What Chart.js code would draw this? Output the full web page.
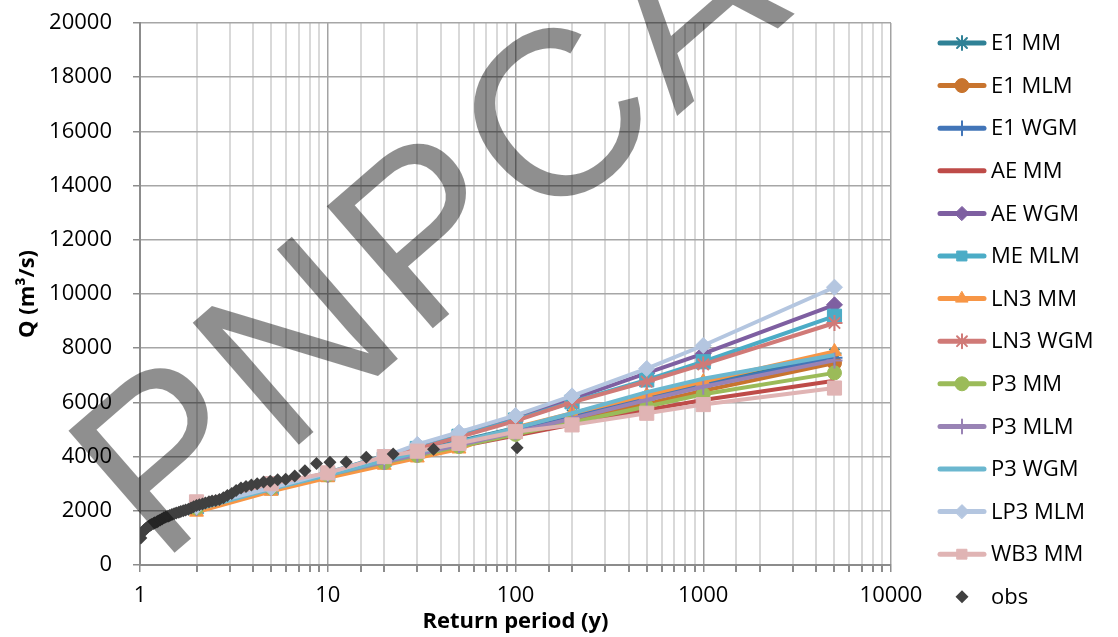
<!DOCTYPE html>
<html>
<head>
<meta charset="utf-8">
<script src="https://cdn.jsdelivr.net/npm/chart.js@4/dist/chart.umd.min.js"></script>
<style>
  body { margin: 0; background: #fff; }
  #wrap { width: 1118px; height: 637px; }
</style>
</head>
<body>
<div id="wrap"><canvas id="myChart"></canvas></div>
<script>
// return periods of the fitted curves
const periods = [2, 5, 10, 20, 30, 50, 100, 200, 500, 1000, 5000]

// fitted discharge (m3/s) per distribution / method
const e1MM   = [2100, 2890, 3410, 4020, 4210, 4570, 5060, 5550, 6190, 6670, 7800]
const e1MLM  = [2100, 2840, 3330, 3800, 4080, 4420, 4880, 5340, 5950, 6430, 7450]
const e1WGM  = [2100, 2870, 3380, 3880, 4170, 4530, 5020, 5500, 6130, 6620, 7650]
const aeMM   = [2150, 2900, 3380, 3820, 4070, 4370, 4780, 5180, 5720, 6090, 6800]
const aeWGM  = [2150, 2850, 3350, 3950, 4350, 4800, 5420, 6120, 7080, 7800, 9600]
const meMLM  = [2150, 2850, 3350, 3900, 4300, 4750, 5350, 6020, 6830, 7500, 9180]
const ln3MM  = [1950, 2720, 3220, 3680, 3950, 4280, 5080, 5600, 6270, 6770, 7880]
const ln3WGM = [2150, 2850, 3350, 3900, 4280, 4720, 5320, 6000, 6770, 7400, 8930]
const p3MM   = [2100, 2850, 3320, 3780, 4040, 4370, 4820, 5260, 5850, 6300, 7090]
const p3MLM  = [2100, 2850, 3330, 3800, 4080, 4430, 4900, 5400, 6090, 6580, 7550]
const p3WGM  = [2050, 2800, 3320, 3850, 4150, 4530, 5050, 5600, 6380, 6870, 7750]
const lp3MLM = [2150, 2850, 3400, 4000, 4450, 4900, 5520, 6240, 7250, 8100, 10250]
const wb3MM  = [2330, 3000, 3400, 4000, 4200, 4490, 4920, 5170, 5600, 5920, 6530]

// observed floods with their plotting position return periods
const obsT = [102.0, 36.62, 22.31, 16.04, 12.53, 10.27, 8.71, 7.56, 6.67, 5.97,
  5.41, 4.94, 4.55, 4.21, 3.92, 3.67, 3.45, 3.25, 3.08, 2.92,
  2.78, 2.65, 2.53, 2.42, 2.33, 2.23, 2.15, 2.07, 2.00, 1.93,
  1.87, 1.81, 1.75, 1.70, 1.65, 1.61, 1.56, 1.52, 1.48, 1.44,
  1.41, 1.37, 1.34, 1.31, 1.28, 1.25, 1.23, 1.20, 1.18, 1.15,
  1.13, 1.11, 1.09, 1.07, 1.05, 1.03, 1.01]
const obsQ = [4330, 4270, 4100, 3975, 3800, 3790, 3750, 3480, 3285, 3165,
  3150, 3090, 3060, 3000, 2950, 2900, 2840, 2750, 2640, 2560,
  2480, 2420, 2380, 2360, 2330, 2290, 2250, 2220, 2200, 2150,
  2100, 2060, 2030, 2000, 1970, 1950, 1920, 1890, 1860, 1830,
  1800, 1770, 1740, 1700, 1660, 1620, 1590, 1560, 1530, 1490,
  1460, 1420, 1380, 1340, 1280, 1200, 1000]

const xTicks = [1, 10, 100, 1000, 10000]
const yMax = 20000
const yStep = 2000

const pts = (xs, ys) => xs.map((x, i) => ({ x: x, y: ys[i] }))

function fit(label, values, color, style, radius, bw) {
  return {
    label: label,
    data: pts(periods, values),
    showLine: true,
    borderColor: color,
    backgroundColor: color,
    borderWidth: 4,
    pointStyle: style,
    pointRadius: style ? radius : 0,
    pointBorderWidth: bw || 1,
    pointBorderColor: color,
    pointBackgroundColor: color
  }
}

const datasets = [
  fit('E1 MM', e1MM, '#2f8196', 'star', 7, 2),
  fit('E1 MLM', e1MLM, '#c8742e', 'circle', 7),
  fit('E1 WGM', e1WGM, '#4275b8', 'cross', 8, 2),
  fit('AE MM', aeMM, '#be4b48', false, 0),
  fit('AE WGM', aeWGM, '#7e5fa1', 'rectRot', 8),
  fit('ME MLM', meMLM, '#4bacc6', 'rect', 10),
  fit('LN3 MM', ln3MM, '#f79646', 'triangle', 8),
  fit('LN3 WGM', ln3WGM, '#d07a77', 'star', 8, 2),
  fit('P3 MM', p3MM, '#9bbb59', 'circle', 7),
  fit('P3 MLM', p3MLM, '#9983b5', 'cross', 8, 2),
  fit('P3 WGM', p3WGM, '#6bb7cf', false, 0),
  fit('LP3 MLM', lp3MLM, '#b4c6e0', 'rectRot', 8),
  fit('WB3 MM', wb3MM, '#e0b4b4', 'rect', 10),
  {
    label: 'obs',
    data: pts(obsT, obsQ),
    showLine: false,
    borderColor: '#404040',
    backgroundColor: '#404040',
    pointStyle: 'rectRot',
    pointRadius: 6.5,
    pointBorderWidth: 0
  }
]
// later series sit on top, like the spreadsheet
datasets.forEach((d, i) => { d.order = datasets.length - i })

const isMajor = v => xTicks.indexOf(v) >= 0
const font = '"Open Sans", "Liberation Sans", sans-serif'

// hand-drawn legend in the right margin
const sideLegend = {
  id: 'sideLegend',
  afterDraw(chart) {
    const c = chart.ctx
    const step = 42.6
    chart.data.datasets.forEach((d, i) => {
      const y = 43 + i * step
      c.save()
      if (d.showLine) {
        c.strokeStyle = d.borderColor
        c.lineWidth = 5
        c.lineCap = 'round'
        c.beginPath()
        c.moveTo(940, y)
        c.lineTo(984, y)
        c.stroke()
      }
      if (d.pointStyle) {
        c.fillStyle = d.backgroundColor
        c.strokeStyle = d.borderColor
        c.lineWidth = d.pointBorderWidth || 1
        Chart.helpers.drawPoint(c, {
          pointStyle: d.pointStyle,
          radius: Math.min(d.pointRadius, 7),
          rotation: 0,
          borderWidth: d.pointBorderWidth || 0
        }, 962, y)
      }
      c.fillStyle = '#000'
      c.font = '22px ' + font
      c.textBaseline = 'middle'
      c.textAlign = 'left'
      c.fillText(d.label, 991, y + 1)
      c.restore()
    })
  }
}

// grey diagonal watermark over the plot
const watermark = {
  id: 'watermark',
  afterDatasetsDraw(chart) {
    const c = chart.ctx
    c.save()
    c.translate(438, 238)
    c.rotate(-41 * Math.PI / 180)
    c.fillStyle = 'rgba(0, 0, 0, 0.44)'
    c.font = '235px "Liberation Sans", sans-serif'
    c.letterSpacing = '8px'
    c.textAlign = 'center'
    c.textBaseline = 'middle'
    c.fillText('PNPCA', 0, 0)
    c.restore()
  }
}

const ctx = document.getElementById('myChart')

const myChart = new Chart(ctx, {
  type: 'scatter',
  data: { datasets: datasets },
  plugins: [watermark, sideLegend],
  options: {
    responsive: true,
    maintainAspectRatio: false,
    animation: false,
    layout: { padding: { top: 23, right: 227, left: 0, bottom: 0 } },
    plugins: {
      legend: { display: false },
      tooltip: { enabled: false }
    },
    scales: {
      x: {
        type: 'logarithmic',
        min: 1,
        max: 10000,
        afterFit: s => { s.height = 72; s.paddingLeft = 0; s.paddingRight = 0 },
        grid: {
          color: c => (c.tick && isMajor(c.tick.value)) ? '#a3a3a3' : '#d9d9d9',
          lineWidth: c => (c.tick && isMajor(c.tick.value)) ? 1.5 : 2,
          tickColor: '#8c8c8c',
          tickLength: 7
        },
        border: { color: '#8c8c8c', width: 2 },
        ticks: {
          autoSkip: false,
          maxRotation: 0,
          padding: 11,
          color: '#000',
          font: { family: font, size: 22 },
          callback: v => isMajor(v) ? String(v) : ''
        },
        title: {
          display: true,
          text: 'Return period (y)',
          color: '#000',
          font: { family: font, size: 22, weight: 'bold' },
          padding: { top: 0, bottom: 2 }
        }
      },
      y: {
        min: 0,
        max: yMax,
        afterFit: s => { s.width = 140; s.paddingTop = 0; s.paddingBottom = 0 },
        grid: { color: '#a6a6a6', lineWidth: 1.5, tickColor: '#8c8c8c', tickLength: 7 },
        border: { color: '#8c8c8c', width: 2 },
        ticks: {
          stepSize: yStep,
          padding: 21,
          color: '#000',
          font: { family: font, size: 22 },
          callback: v => String(v)
        },
        title: {
          display: true,
          text: 'Q (m³/s)',
          color: '#000',
          font: { family: font, size: 22, weight: 'bold' },
          padding: { top: 15, bottom: 0 }
        }
      }
    }
  }
})
</script>
</body>
</html>
